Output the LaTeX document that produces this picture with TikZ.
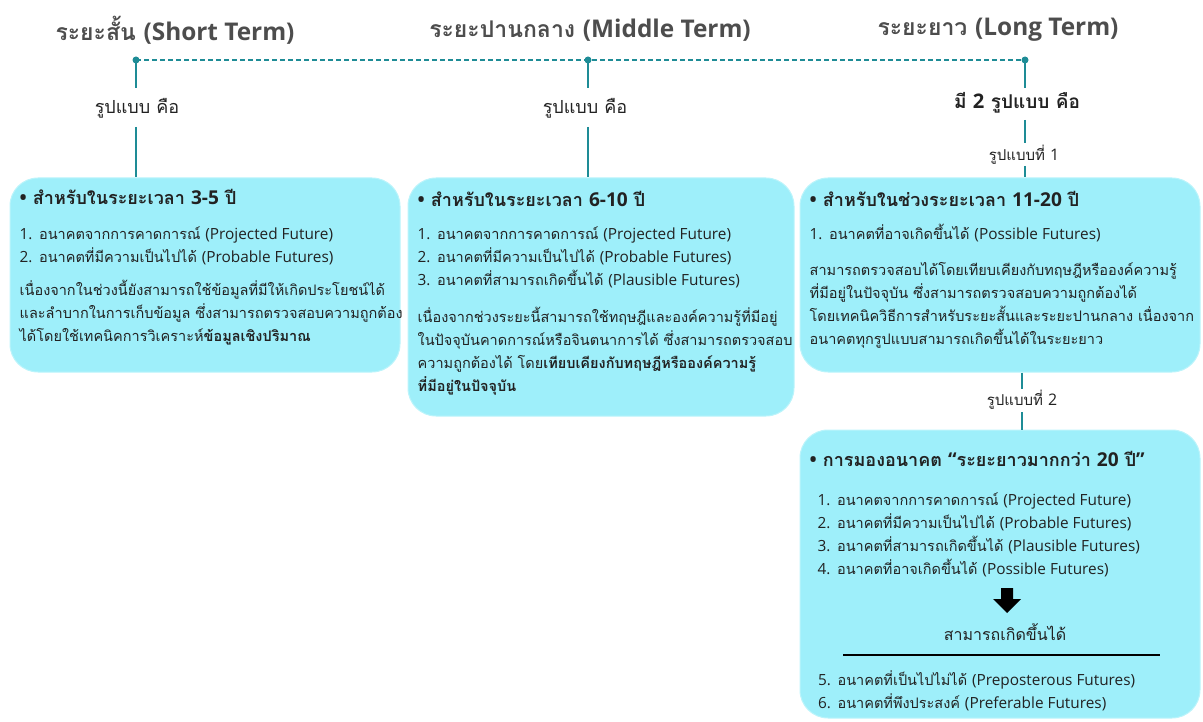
\documentclass[tikz,border=0pt]{standalone}
\usepackage{fontspec}
\setmainfont[Script=Thai]{Loma}
\newfontfamily\enfont[Scale=1.06]{Open Sans}
\newcommand{\en}[1]{{\enfont #1}}
\newcommand{\cardhead}{\bfseries\fontsize{18}{23}\selectfont}
\usetikzlibrary{positioning}
\definecolor{lineteal}{HTML}{1E8C96}
\definecolor{cardcyan}{HTML}{9EEFFA}
\definecolor{termgrey}{HTML}{4D4D4D}
\definecolor{bodyink}{HTML}{222222}
\tikzset{
  term/.style={font=\bfseries\fontsize{23}{26}\selectfont, text=termgrey, inner sep=0pt},
  link/.style={draw=lineteal, line width=1.6pt},
  formlabel/.style={font=\fontsize{18}{20}\selectfont, text=bodyink, inner sep=2pt},
  card/.style={rectangle, rounded corners=28pt, fill=cardcyan, draw=cardcyan!70!white, line width=1pt},
  cardtext/.style={anchor=north west, align=left, inner sep=0pt, text=bodyink, font=\fontsize{14.5}{23}\selectfont},
}
\begin{document}
\begin{tikzpicture}[x=1pt, y=-1pt]
\useasboundingbox (0,0) rectangle (1203,722);
% timeline
\node[term] (shortterm) at (175,30) {ระยะสั้น \en{(Short Term)}};
\node[term] (midterm) at (590,30) {ระยะปานกลาง \en{(Middle Term)}};
\node[term] (longterm) at (998,30) {ระยะยาว \en{(Long Term)}};
\coordinate (shortdot) at (136,60);
\coordinate (middot) at (588,60);
\coordinate (longdot) at (1025,60);
\draw[link, line width=1.2pt, dash pattern=on 5pt off 3pt] (shortdot) -- (middot) -- (longdot);
\foreach \d in {shortdot, middot, longdot}
  \fill[lineteal] (\d) circle [radius=3.5pt];
% boxes
\node[card, minimum width=390pt, minimum height=194pt] (shortbox) at (205,275) {};
\node[card, minimum width=386pt, minimum height=238pt] (midbox) at (601,297) {};
\node[card, minimum width=400pt, minimum height=194pt] (longbox) at (1000,275) {};
\node[card, minimum width=400pt, minimum height=288pt] (farbox) at (1000,574) {};
% labels on the stems
\node[formlabel] (shortform) at (137,108) {รูปแบบ คือ};
\node[formlabel] (midform) at (585,108) {รูปแบบ คือ};
\node[formlabel, font=\bfseries\fontsize{19}{20}\selectfont] (longform) at (1017,103) {มี \en{2} รูปแบบ คือ};
\node[formlabel, font=\fontsize{15}{16}\selectfont] (firstform) at (1024,155) {รูปแบบที่ \en{1}};
\node[formlabel, font=\fontsize{15}{16}\selectfont] (secondform) at (1022,400) {รูปแบบที่ \en{2}};
% stems
\draw[link] (shortdot) -- (shortdot |- 0,88);
\draw[link] (136,127) -- (shortbox.north -| 136,0);
\draw[link] (middot) -- (middot |- 0,88);
\draw[link] (588,127) -- (midbox.north -| 588,0);
\draw[link] (longdot) -- (longdot |- 0,88);
\draw[link] (1025,120) -- (1025,143);
\draw[link] (1025,166) -- (longbox.north -| 1025,0);
\draw[link] (longbox.south -| 1022,0) -- (1022,389);
\draw[link] (1022,412) -- (farbox.north -| 1022,0);
% short term text
\node[cardtext] (shorttext) at ([xshift=10pt, yshift=-12pt]shortbox.north west) {%
  {\cardhead \en{•} สำหรับในระยะเวลา \en{3-5} ปี}\\[12pt]
  \en{1.} อนาคตจากการคาดการณ์ \en{(Projected Future)}\\
  \en{2.} อนาคตที่มีความเป็นไปได้ \en{(Probable Futures)}\\[10pt]
  เนื่องจากในช่วงนี้ยังสามารถใช้ข้อมูลที่มีให้เกิดประโยชน์ได้\\
  และลำบากในการเก็บข้อมูล ซึ่งสามารถตรวจสอบความถูกต้อง\\
  ได้โดยใช้เทคนิคการวิเคราะห์\textbf{ข้อมูลเชิงปริมาณ}};
% middle term text
\node[cardtext] (midtext) at ([xshift=10pt, yshift=-14pt]midbox.north west) {%
  {\cardhead \en{•} สำหรับในระยะเวลา \en{6-10} ปี}\\[10pt]
  \en{1.} อนาคตจากการคาดการณ์ \en{(Projected Future)}\\
  \en{2.} อนาคตที่มีความเป็นไปได้ \en{(Probable Futures)}\\
  \en{3.} อนาคตที่สามารถเกิดขึ้นได้ \en{(Plausible Futures)}\\[14pt]
  เนื่องจากช่วงระยะนี้สามารถใช้ทฤษฎีและองค์ความรู้ที่มีอยู่\\
  ในปัจจุบันคาดการณ์หรือจินตนาการได้ ซึ่งสามารถตรวจสอบ\\
  ความถูกต้องได้ โดย\textbf{เทียบเคียงกับทฤษฎีหรือองค์ความรู้}\\
  \textbf{ที่มีอยู่ในปัจจุบัน}};
% long term text
\node[cardtext] (longtext) at ([xshift=10pt, yshift=-14pt]longbox.north west) {%
  {\cardhead \en{•} สำหรับในช่วงระยะเวลา \en{11-20} ปี}\\[10pt]
  \en{1.} อนาคตที่อาจเกิดขึ้นได้ \en{(Possible Futures)}\\[13pt]
  สามารถตรวจสอบได้โดยเทียบเคียงกับทฤษฎีหรือองค์ความรู้\\
  ที่มีอยู่ในปัจจุบัน ซึ่งสามารถตรวจสอบความถูกต้องได้\\
  โดยเทคนิควิธีการสำหรับระยะสั้นและระยะปานกลาง เนื่องจาก\\
  อนาคตทุกรูปแบบสามารถเกิดขึ้นได้ในระยะยาว};
% beyond 20 years text
\node[cardtext] (fartext) at ([xshift=10pt, yshift=-22pt]farbox.north west) {%
  {\cardhead \en{•} การมองอนาคต \en{“}ระยะยาวมากกว่า \en{20} ปี\en{”}}\\[16pt]
  \hspace{8pt}\en{1.} อนาคตจากการคาดการณ์ \en{(Projected Future)}\\
  \hspace{8pt}\en{2.} อนาคตที่มีความเป็นไปได้ \en{(Probable Futures)}\\
  \hspace{8pt}\en{3.} อนาคตที่สามารถเกิดขึ้นได้ \en{(Plausible Futures)}\\
  \hspace{8pt}\en{4.} อนาคตที่อาจเกิดขึ้นได้ \en{(Possible Futures)}};
\coordinate (arrowtop) at (1007,588);
\fill[black] (arrowtop) ++(-6,0) -- ++(12,0) -- ++(0,11) -- ++(8,0) -- (1007,613) -- (993,599) -- ++(8,0) -- cycle;
\node[formlabel, font=\fontsize{16}{20}\selectfont] (canhappen) at (1005,632) {สามารถเกิดขึ้นได้};
\coordinate (ruleleft) at (843,655);
\coordinate (ruleright) at (1160,655);
\draw[line width=1.2pt] (ruleleft) -- (ruleright);
\node[cardtext] (fartail) at (818,670) {%
  \en{5.} อนาคตที่เป็นไปไม่ได้ \en{(Preposterous Futures)}\\
  \en{6.} อนาคตที่พึงประสงค์ \en{(Preferable Futures)}};
\end{tikzpicture}
\end{document}
